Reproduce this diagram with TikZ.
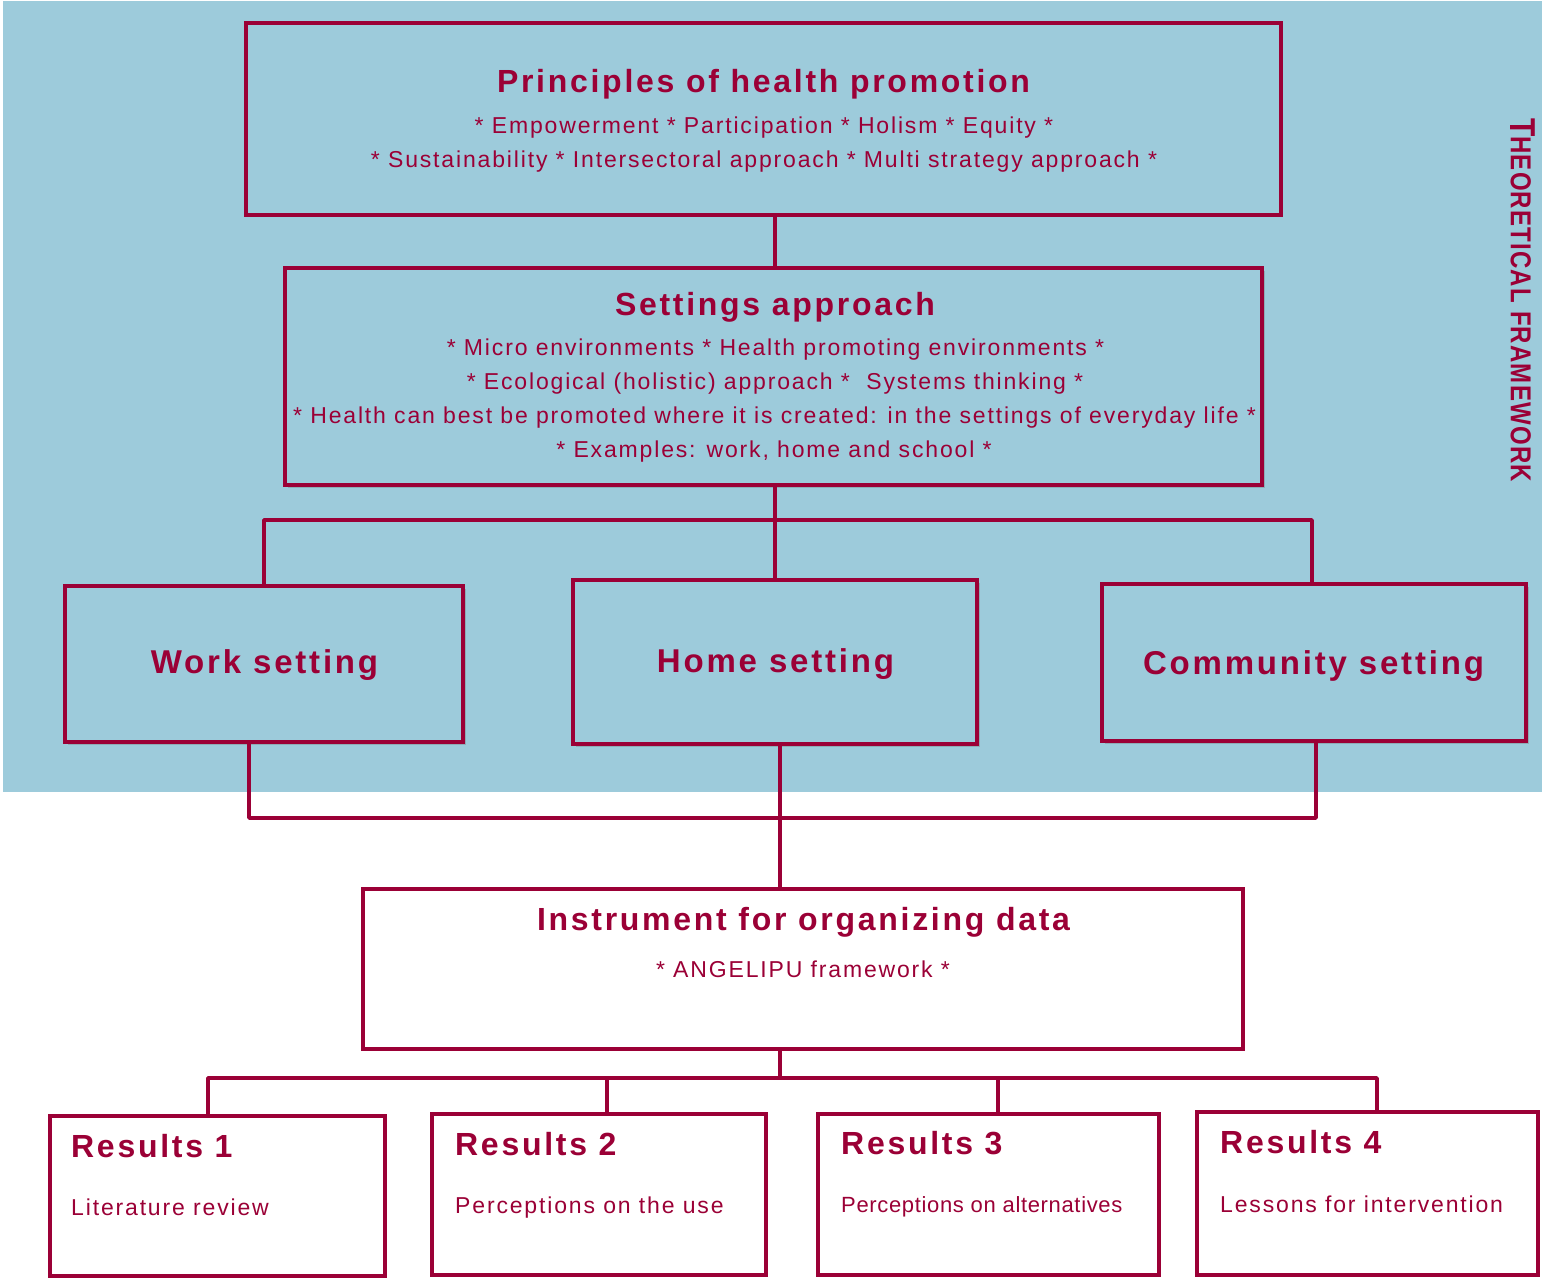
\documentclass[tikz,border=0pt]{standalone}
\usepackage{fontspec}
\setmainfont{Liberation Sans}
\newfontfamily\headfont{Liberation Sans}[LetterSpace=8.5]
\newfontfamily\bodyfont{Liberation Sans}[LetterSpace=8]
\newfontfamily\tightfont{Liberation Sans}[LetterSpace=3]
\newfontfamily\sidefont{Liberation Sans}[LetterSpace=5]
\usetikzlibrary{shadows}
\definecolor{frameblue}{RGB}{157,203,219}
\definecolor{crimson}{RGB}{155,0,54}

\begin{document}
\begin{tikzpicture}[x=1pt,y=-1pt,
  box/.style={draw=crimson, line width=3.5pt, inner sep=0pt},
  shadowbox/.style={box, fill=frameblue,
    drop shadow={opacity=0.35, fill=black!55, shadow xshift=3pt, shadow yshift=-3pt}},
  wire/.style={draw=crimson, line width=3.5pt, line join=round},
  head/.style={text=crimson, font=\headfont\bfseries\fontsize{32}{38}\selectfont,
    inner sep=0pt, anchor=base},
  body/.style={text=crimson, font=\bodyfont\fontsize{23}{28}\selectfont,
    inner sep=0pt, anchor=base},
]
% page and the shaded theoretical-framework band
\fill[white] (0,0) rectangle (1542,1277);
\useasboundingbox (0,0) rectangle (1542,1277);
\fill[frameblue] (3,1) rectangle (1542,792);

% ---- boxes ----
\node[box, line width=4.5pt, minimum width=1035pt, minimum height=192pt] (principles) at (763.5,119) {};
\node[shadowbox, minimum width=977pt, minimum height=217pt] (settings) at (773.5,376.5) {};
\node[shadowbox, minimum width=398pt, minimum height=156pt] (work) at (264,664) {};
\node[shadowbox, minimum width=404pt, minimum height=164pt] (home) at (775,662) {};
\node[shadowbox, minimum width=424pt, minimum height=157pt] (community) at (1314,662.5) {};
\node[box, fill=white, minimum width=880pt, minimum height=160pt] (instrument) at (803,969) {};
\node[box, fill=white, minimum width=335pt, minimum height=160pt] (r1) at (217.5,1196) {};
\node[box, fill=white, minimum width=334pt, minimum height=161pt] (r2) at (599,1194.5) {};
\node[box, fill=white, minimum width=341pt, minimum height=161pt] (r3) at (988.5,1194.5) {};
\node[box, fill=white, minimum width=341pt, minimum height=163pt] (r4) at (1367.5,1193.5) {};

% ---- connectors ----
\draw[wire] (settings.north -| 775,0) -- (principles.south -| 775,0);
\coordinate (busA) at (775,520);
\draw[wire] (settings.south -| busA) -- (home.north -| busA);
\draw[wire] (work.north) |- (busA) -| (community.north -| 1312,0);

\coordinate (wk) at (249,818);
\coordinate (cm) at (1316,818);
\coordinate (hj) at (780,818);
\draw[wire] (work.south -| wk) -- (wk) -- (cm) -- (community.south -| cm);
\draw[wire] (home.south -| hj) -- (instrument.north -| hj);

\coordinate (rb) at (780,1078);
\coordinate (d1) at (208,1078);
\coordinate (d2) at (607,1078);
\coordinate (d3) at (998,1078);
\coordinate (d4) at (1377,1078);
\draw[wire] (instrument.south -| rb) -- (rb);
\draw[wire] (r1.north -| d1) -- (d1) -- (d4) -- (r4.north -| d4);
\draw[wire] (d2) -- (r2.north -| d2);
\draw[wire] (d3) -- (r3.north -| d3);

% ---- texts ----
\node[head] (t-principles) at (763.5,92) {Principles of health promotion};
\node[body] (t-princ1) at (764,133) {* Empowerment * Participation * Holism * Equity *};
\node[body] (t-princ2) at (764,167) {* Sustainability * Intersectoral approach * Multi strategy approach *};

\node[head] (t-settings) at (775,315) {Settings approach};
\node[body] (t-set1) at (775.5,355) {* Micro environments * Health promoting environments *};
\node[body] (t-set2) at (775,389) {* Ecological (holistic) approach *\ \ Systems thinking *};
\node[body] (t-set3) at (774.5,423) {* Health can best be promoted where it is created: in the settings of everyday life *};
\node[body] (t-set4) at (774,457) {* Examples: work, home and school *};

\node[head, font=\headfont\bfseries\fontsize{33}{38}\selectfont] (t-work) at (264.5,673) {Work setting};
\node[head, font=\headfont\bfseries\fontsize{33}{38}\selectfont] (t-home) at (775.5,672) {Home setting};
\node[head, font=\headfont\bfseries\fontsize{33}{38}\selectfont] (t-community) at (1313.5,674) {Community setting};

\node[head] (t-instrument) at (803.5,930) {Instrument for organizing data};
\node[body] (t-angelipu) at (803,977) {* ANGELIPU framework *};

\node[head, anchor=base west] (t-r1) at (71,1157) {Results 1};
\node[body, anchor=base west] (s-r1) at (71,1215) {Literature review};
\node[head, anchor=base west] (t-r2) at (455,1155) {Results 2};
\node[body, anchor=base west] (s-r2) at (455,1213) {Perceptions on the use};
\node[head, anchor=base west] (t-r3) at (841,1154) {Results 3};
\node[body, anchor=base west, font=\tightfont\fontsize{22}{28}\selectfont] (s-r3) at (841,1212) {Perceptions on alternatives};
\node[head, anchor=base west] (t-r4) at (1220,1153) {Results 4};
\node[body, anchor=base west] (s-r4) at (1220,1212) {Lessons for intervention};

% vertical side label, letters drawn tall and narrow
\node[text=crimson, rotate=-90, inner sep=0pt, font=\sidefont\bfseries\fontsize{24}{30}\selectfont] (side) at (1523,300)
  {\scalebox{1}[1.2]{{\fontsize{30}{30}\selectfont T}HEORETICAL FRAMEWORK}};
\end{tikzpicture}
\end{document}
